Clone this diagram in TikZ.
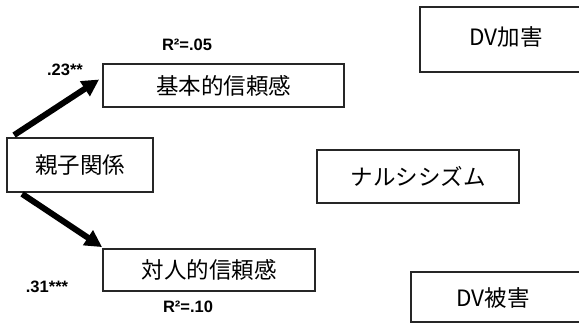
\documentclass[tikz,border=0pt]{standalone}
\usepackage{fontspec}
\setmainfont{Liberation Sans}
\newfontfamily\jpfont{Noto Sans CJK JP}
\usetikzlibrary{arrows.meta,calc}
\begin{document}
\begin{tikzpicture}[x=1pt,y=-1pt,
  box/.style={draw=black!85,line width=1.8pt,rectangle,inner sep=0pt,fill=white,
    font=\jpfont\fontsize{22.5}{25}\selectfont},
  stat/.style={font=\bfseries\fontsize{16.5}{18}\selectfont,inner sep=0pt},
  jtext/.style={font=\jpfont\fontsize{22.5}{25}\selectfont,inner sep=0pt},
  path/.style={line width=6pt,-{Triangle[length=17pt,width=17pt]}}]
\useasboundingbox (0,0) rectangle (579,332);
% boxes
\node[box,minimum width=146pt,minimum height=54pt] (A) at (80,165) {親子関係};
\node[box,minimum width=241pt,minimum height=43pt] (B) at (223.5,85.5) {基本的信頼感};
\node[box,minimum width=212pt,minimum height=42pt] (C) at (209,270) {対人的信頼感};
\node[box,minimum width=202pt,minimum height=53pt] (N) at (418,176.5) {ナルシシズム};
\node[box,minimum width=175pt,minimum height=65pt] (P) at (507.5,39.5) {};
\node[box,minimum width=180pt,minimum height=50pt] (V) at (501,297) {};
\node[jtext] (Pt) at (506,37) {DV加害};
\node[jtext] (Vt) at (493,298) {DV被害};
% arrows
\draw[path] ($(A.north west)+(8,-2)$) -- ($(B.west)+(-3,-6)$);
\draw[path] ($(A.south west)+(16,1)$) -- ($(C.north west)+(0,-1)$);
% labels
\node[stat] (r1) at (187,45) {R²=.05};
\node[stat] (c1) at (65,70) {.23**};
\node[stat] (c2) at (47,287) {.31***};
\node[stat] (r2) at (188,307) {R²=.10};
\end{tikzpicture}
\end{document}
